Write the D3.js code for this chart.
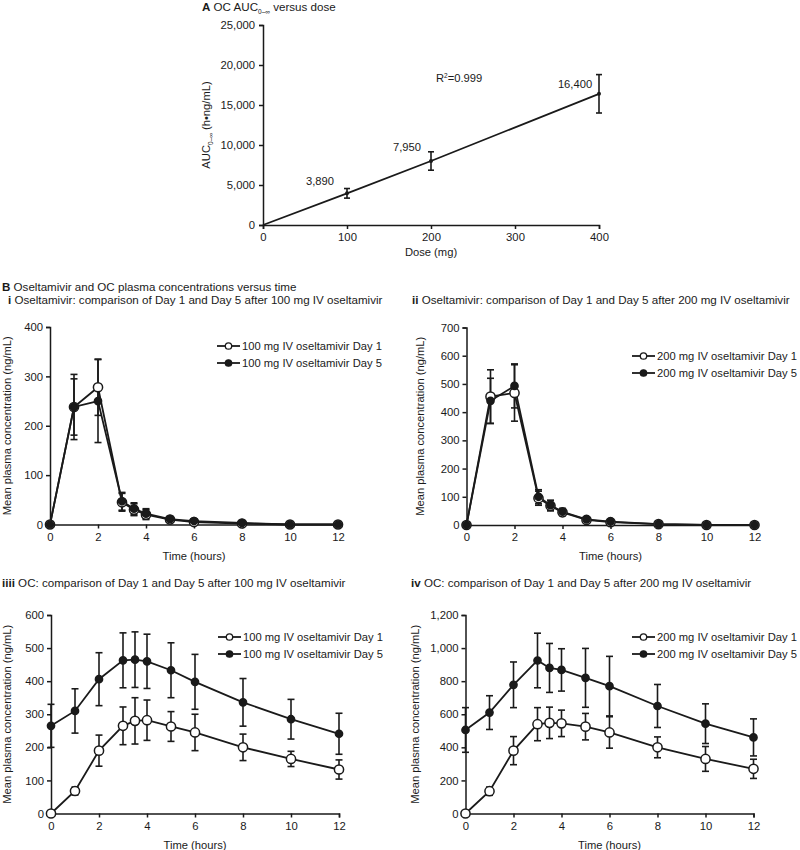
<!DOCTYPE html>
<html lang="en">
<head>
<meta charset="UTF-8">
<title>Oseltamivir and OC pharmacokinetics</title>
<script src="https://d3js.org/d3.v7.min.js"></script>
<style>
  body { margin: 0; background: #fff; }
  svg { font-family: "Liberation Sans", Arial, sans-serif; }
  .axis path, .axis line { stroke: #1a1a1a; stroke-width: 1.5; }
  .axis text { font-size: 11.3px; fill: #1a1a1a; }
  .lbl { font-size: 11.2px; fill: #1a1a1a; }
  .ttl { font-size: 11.6px; fill: #1a1a1a; }
  .series { fill: none; stroke: #1a1a1a; stroke-width: 1.8; }
  .err { stroke: #1a1a1a; stroke-width: 1.6; }
</style>
</head>
<body>
<div id="chart"></div>
<script>
// ---- Panel A: AUC vs dose ----
const doses = [0, 100, 200, 400];
const aucMean = [0, 3960, 8000, 16400];
const aucSd = [0, 600, 1150, 2400];
const aucLabels = ["", "3,890", "7,950", "16,400"];
const aucTicks = [0, 5000, 10000, 15000, 20000, 25000];
const doseTicks = [0, 100, 200, 300, 400];

// ---- Panel B: concentration vs time ----
const times = [0, 1, 2, 3, 3.5, 4, 5, 6, 8, 10, 12];
const timeTicks = [0, 2, 4, 6, 8, 10, 12];

// i: oseltamivir 100 mg
const osel100Day1 = [0, 238, 278, 45, 30, 20, 10, 5, 2, 0, 0];
const osel100Day1Sd = [0, 57, 57, 18, 12, 10, 5, 4, 1, 0, 0];
const osel100Day5 = [0, 238, 250, 47, 32, 22, 11, 7, 3, 0, 0];
const osel100Day5Sd = [0, 66, 84, 18, 12, 10, 5, 4, 1, 0, 0];

// ii: oseltamivir 200 mg
const osel200Day1 = [0, 455, 468, 95, 68, 45, 18, 10, 3, 0, 0];
const osel200Day1Sd = [0, 95, 100, 25, 18, 12, 6, 5, 1, 0, 0];
const osel200Day5 = [0, 440, 493, 100, 70, 47, 20, 12, 3, 0, 0];
const osel200Day5Sd = [0, 80, 78, 25, 18, 12, 6, 5, 1, 0, 0];

// iii: OC after 100 mg
const oc100Day1 = [0, 68, 190, 265, 280, 282, 263, 245, 200, 165, 133];
const oc100Day1Sd = [0, 12, 47, 57, 70, 61, 45, 55, 40, 23, 29];
const oc100Day5 = [265, 310, 406, 463, 465, 460, 433, 398, 336, 285, 241];
const oc100Day5Sd = [65, 67, 80, 83, 84, 82, 83, 83, 72, 60, 62];

// iv: OC after 200 mg
const oc200Day1 = [0, 135, 380, 540, 548, 545, 525, 490, 400, 330, 270];
const oc200Day1Sd = [0, 25, 85, 100, 95, 80, 80, 95, 63, 75, 58];
const oc200Day5 = [505, 610, 778, 925, 880, 868, 820, 770, 650, 543, 460];
const oc200Day5Sd = [135, 102, 138, 165, 148, 128, 178, 180, 130, 120, 112];

const svg = d3.select("#chart").append("svg")
  .attr("width", 800).attr("height", 850);

const fmt = d3.format(",");

// helper to draw error bars
function errorBars(g, xs, means, sds, x, y, cap) {
  means.forEach((m, i) => {
    if (!sds[i]) return;
    const cx = x(xs[i]);
    const top = y(m + sds[i]), bot = y(Math.max(0, m - sds[i]));
    g.append("line").attr("class", "err").attr("x1", cx).attr("x2", cx).attr("y1", top).attr("y2", bot);
    g.append("line").attr("class", "err").attr("x1", cx - cap).attr("x2", cx + cap).attr("y1", top).attr("y2", top);
    g.append("line").attr("class", "err").attr("x1", cx - cap).attr("x2", cx + cap).attr("y1", bot).attr("y2", bot);
  });
}

// ===== Panel A =====
(function () {
  const x = d3.scaleLinear().domain([0, 400]).range([263, 599]);
  const y = d3.scaleLinear().domain([0, 25000]).range([225, 25]);
  const g = svg.append("g");

  g.append("text").attr("class", "ttl").attr("x", 202).attr("y", 11)
    .call(t => {
      t.append("tspan").attr("font-weight", "bold").text("A");
      t.append("tspan").text("  OC AUC");
      t.append("tspan").attr("font-size", "6.5px").attr("dy", 3).text("0–∞");
      t.append("tspan").attr("dy", -3).text(" versus dose");
    });

  g.append("g").attr("class", "axis").attr("transform", "translate(0,225)")
    .call(d3.axisBottom(x).tickValues(doseTicks).tickSize(4).tickPadding(4));
  g.append("g").attr("class", "axis").attr("transform", "translate(263,0)")
    .call(d3.axisLeft(y).tickValues(aucTicks).tickFormat(fmt).tickSize(4).tickPadding(4));

  g.append("text").attr("class", "lbl").attr("x", 431).attr("y", 256)
    .attr("text-anchor", "middle").text("Dose (mg)");
  g.append("text").attr("class", "lbl")
    .attr("transform", "translate(210,125) rotate(-90)").attr("text-anchor", "middle")
    .call(t => {
      t.append("tspan").text("AUC");
      t.append("tspan").attr("font-size", "6.5px").attr("dy", 3).text("0–∞");
      t.append("tspan").attr("dy", -3).text(" (h•ng/mL)");
    });

  const line = d3.line().x((d, i) => x(doses[i])).y(d => y(d));
  g.append("path").attr("class", "series").attr("d", line(aucMean));
  errorBars(g, doses, aucMean, aucSd, x, y, 3);
  const labOff = [null, [-27, -8], [-24, -10], [-24, -6]];
  doses.forEach((d, i) => {
    if (i === 0) return;
    g.append("circle").attr("cx", x(d)).attr("cy", y(aucMean[i])).attr("r", 2).attr("fill", "#1a1a1a");
    g.append("text").attr("class", "lbl").attr("text-anchor", "middle")
      .attr("x", x(d) + labOff[i][0]).attr("y", y(aucMean[i]) + labOff[i][1])
      .text(aucLabels[i]);
  });
  g.append("text").attr("class", "lbl").attr("x", 436).attr("y", 82)
    .call(t => {
      t.append("tspan").text("R");
      t.append("tspan").attr("font-size", "6.5px").attr("dy", -4).text("2");
      t.append("tspan").attr("dy", 4).text("=0.999");
    });
})();

svg.append("text").attr("class", "ttl").attr("x", 2).attr("y", 291)
  .call(t => {
    t.append("tspan").attr("font-weight", "bold").text("B");
    t.append("tspan").text("  Oseltamivir and OC plasma concentrations versus time");
  });

// ===== Concentration panels =====
function drawPanel(cfg) {
  const x = d3.scaleLinear().domain([0, 12]).range([cfg.x0, cfg.x0 + 288]);
  const y = d3.scaleLinear().domain([0, cfg.ymax]).range([cfg.yBottom, cfg.yTop]);
  const g = svg.append("g");

  g.append("text").attr("class", "ttl").attr("x", cfg.titleX).attr("y", cfg.titleY)
    .call(t => {
      t.append("tspan").attr("font-weight", "bold").text(cfg.num);
      t.append("tspan").text("  " + cfg.title);
    });

  g.append("g").attr("class", "axis").attr("transform", `translate(0,${cfg.yBottom})`)
    .call(d3.axisBottom(x).tickValues(timeTicks).tickSize(4).tickPadding(4));
  g.append("g").attr("class", "axis").attr("transform", `translate(${cfg.x0},0)`)
    .call(d3.axisLeft(y).tickValues(cfg.yTicks).tickFormat(fmt).tickSize(4).tickPadding(3));

  g.append("text").attr("class", "lbl").attr("text-anchor", "middle")
    .attr("x", cfg.x0 + 144).attr("y", cfg.yBottom + 35).text("Time (hours)");
  g.append("text").attr("class", "lbl").attr("text-anchor", "middle")
    .attr("transform", `translate(${cfg.ylabX},${(cfg.yBottom + cfg.yTop) / 2}) rotate(-90)`)
    .text("Mean plasma concentration (ng/mL)");

  const line = d3.line().x((d, i) => x(times[i])).y(d => y(d));
  // Day 1 (open) first, Day 5 (filled) drawn on top
  const series = [
    { mean: cfg.d1, sd: cfg.d1sd, fill: "#fff", r: 4.6 },
    { mean: cfg.d5, sd: cfg.d5sd, fill: "#1a1a1a", r: 3.6 }
  ];
  series.forEach(s => {
    errorBars(g, times, s.mean, s.sd, x, y, 3.5);
    g.append("path").attr("class", "series").attr("d", line(s.mean));
  });
  series.forEach(s => {
    g.selectAll(null).data(s.mean).enter().append("circle")
      .attr("cx", (d, i) => x(times[i])).attr("cy", d => y(d))
      .attr("r", s.r).attr("fill", s.fill)
      .attr("stroke", "#1a1a1a").attr("stroke-width", 1.5);
  });

  // legend
  const leg = g.append("g");
  [[cfg.dose + " mg IV oseltamivir Day 1", "#fff"], [cfg.dose + " mg IV oseltamivir Day 5", "#1a1a1a"]]
    .forEach((d, i) => {
      const ly = cfg.legY + i * 17;
      leg.append("line").attr("x1", cfg.legX).attr("x2", cfg.legX + 23).attr("y1", ly).attr("y2", ly)
        .attr("stroke", "#1a1a1a").attr("stroke-width", 1.8);
      leg.append("circle").attr("cx", cfg.legX + 11.5).attr("cy", ly).attr("r", 3.2)
        .attr("fill", d[1]).attr("stroke", "#1a1a1a").attr("stroke-width", 1.3);
      leg.append("text").attr("class", "lbl").attr("x", cfg.legX + 25).attr("y", ly + 4).text(d[0]);
    });
}

drawPanel({
  num: "i", title: "Oseltamivir: comparison of Day 1 and Day 5 after 100 mg IV oseltamivir",
  titleX: 8, titleY: 304, x0: 50, yBottom: 524.5, yTop: 327, ymax: 400,
  yTicks: [0, 100, 200, 300, 400], ylabX: 11, dose: 100, legX: 217, legY: 346,
  d1: osel100Day1, d1sd: osel100Day1Sd, d5: osel100Day5, d5sd: osel100Day5Sd
});
drawPanel({
  num: "ii", title: "Oseltamivir: comparison of Day 1 and Day 5 after 200 mg IV oseltamivir",
  titleX: 412, titleY: 304, x0: 466.5, yBottom: 525, yTop: 327.5, ymax: 700,
  yTicks: [0, 100, 200, 300, 400, 500, 600, 700], ylabX: 424, dose: 200, legX: 632, legY: 356,
  d1: osel200Day1, d1sd: osel200Day1Sd, d5: osel200Day5, d5sd: osel200Day5Sd
});
drawPanel({
  num: "iiii", title: "OC: comparison of Day 1 and Day 5 after 100 mg IV oseltamivir",
  titleX: 2, titleY: 587, x0: 51, yBottom: 813.5, yTop: 615, ymax: 600,
  yTicks: [0, 100, 200, 300, 400, 500, 600], ylabX: 11, dose: 100, legX: 218, legY: 637,
  d1: oc100Day1, d1sd: oc100Day1Sd, d5: oc100Day5, d5sd: oc100Day5Sd
});
drawPanel({
  num: "iv", title: "OC: comparison of Day 1 and Day 5 after 200 mg IV oseltamivir",
  titleX: 411, titleY: 587, x0: 465.5, yBottom: 813.5, yTop: 615, ymax: 1200,
  yTicks: [0, 200, 400, 600, 800, 1000, 1200], ylabX: 419, dose: 200, legX: 632, legY: 637,
  d1: oc200Day1, d1sd: oc200Day1Sd, d5: oc200Day5, d5sd: oc200Day5Sd
});
</script>
</body>
</html>
